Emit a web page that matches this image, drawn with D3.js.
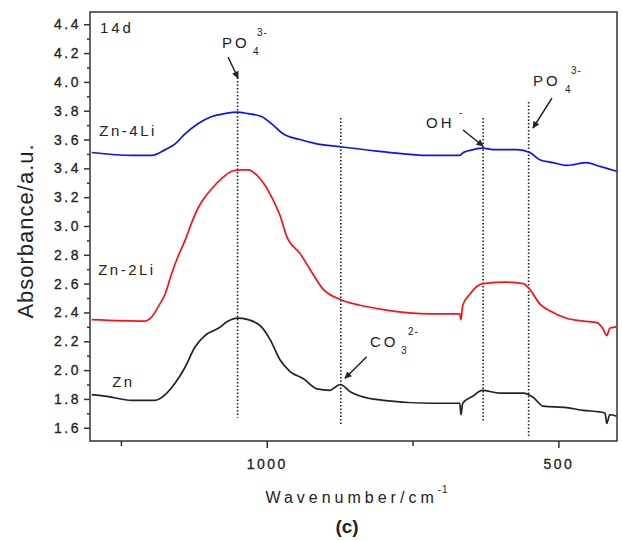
<!DOCTYPE html>
<html>
<head>
<meta charset="utf-8">
<script src="https://d3js.org/d3.v7.min.js"></script>
<style>
  body { margin: 0; background: #fff; }
  text { font-family: "Liberation Sans", Arial, sans-serif; fill: #222; }
</style>
</head>
<body>
<script>
// spectra: [wavenumber, absorbance]
var zn4li = [[1300,3.51],[1231,3.49],[1197,3.49],[1174,3.53],[1157,3.57],[1140,3.64],[1118,3.71],[1094,3.76],[1072,3.78],[1051,3.79],[1032,3.78],[1009,3.76],[989,3.70],[972,3.64],[943,3.60],[914,3.57],[874,3.55],[811,3.52],[720,3.49],[669,3.49],[663,3.51],[646,3.53],[629,3.54],[612,3.53],[571,3.53],[549,3.51],[532,3.46],[509,3.44],[485,3.42],[451,3.44],[434,3.42],[417,3.40],[400,3.38]];
var zn2li = [[1300,2.35],[1209,2.34],[1197,2.37],[1186,2.44],[1174,2.53],[1163,2.67],[1152,2.79],[1140,2.90],[1129,3.02],[1117,3.13],[1106,3.20],[1094,3.26],[1077,3.33],[1060,3.38],[1043,3.39],[1032,3.39],[1014,3.34],[1006,3.30],[989,3.18],[977,3.07],[966,2.93],[943,2.81],[926,2.70],[903,2.56],[874,2.49],[840,2.45],[800,2.42],[720,2.39],[669,2.39],[667,2.35],[664,2.45],[651,2.53],[640,2.58],[629,2.60],[589,2.61],[560,2.60],[549,2.56],[532,2.46],[514,2.41],[486,2.36],[457,2.34],[434,2.33],[424,2.29],[417,2.24],[412,2.29],[400,2.30]];
var zn = [[1300,1.83],[1277,1.82],[1231,1.79],[1192,1.79],[1174,1.83],[1157,1.91],[1140,2.02],[1123,2.16],[1106,2.24],[1083,2.29],[1066,2.34],[1051,2.36],[1032,2.35],[1009,2.30],[994,2.21],[977,2.07],[960,1.99],[937,1.94],[914,1.87],[892,1.86],[874,1.90],[857,1.85],[840,1.82],[800,1.79],[720,1.77],[669,1.77],[667,1.69],[664,1.77],[646,1.82],[631,1.86],[600,1.84],[560,1.84],[543,1.81],[526,1.75],[486,1.74],[457,1.72],[429,1.71],[420,1.70],[417,1.63],[412,1.69],[400,1.68]];

var seriesNames = ['Zn-4Li','Zn-2Li','Zn'];
var seriesData = [zn4li, zn2li, zn];
var seriesColors = ['#1010ff','#ff1010','#222'];

// dotted band markers
var markWn = [1050, 873, 629, 551];
var markTop = [4.03, 3.75, 3.75, 3.86];
var markBottom = [1.67, 1.62, 1.64, 1.54];

var yTicks = [1.6,1.8,2.0,2.2,2.4,2.6,2.8,3.0,3.2,3.4,3.6,3.8,4.0,4.2,4.4];
var yMinor = [1.7,1.9,2.1,2.3,2.5,2.7,2.9,3.1,3.3,3.5,3.7,3.9,4.1,4.3];
var xTicks = [1000, 500];
var xMinor = [1250, 750];

var W = 622, H = 541;
var pLeft = 90, pRight = 617, pTop = 12, pBottom = 441;

var svg = d3.select('body').append('svg').attr('width',W).attr('height',H);

var x = d3.scaleLinear().domain([1303, 399.5]).range([pLeft, pRight]);
var y = d3.scaleLinear().domain([1.508, 4.485]).range([pBottom, pTop]);

// axes
svg.append('g').attr('transform','translate('+pLeft+',0)')
  .call(d3.axisLeft(y).tickValues(yTicks).tickFormat(d3.format('.1f')).tickSize(6).tickPadding(3));
svg.append('g').attr('transform','translate('+pLeft+',0)')
  .call(d3.axisLeft(y).tickValues(yMinor).tickFormat('').tickSize(3));
svg.append('g').attr('transform','translate(0,'+pBottom+')')
  .call(d3.axisBottom(x).tickValues(xTicks).tickFormat(d3.format('d')).tickSize(7).tickPadding(11));
svg.append('g').attr('transform','translate(0,'+pBottom+')')
  .call(d3.axisBottom(x).tickValues(xMinor).tickFormat('').tickSize(5));

svg.selectAll('.domain').remove();
svg.selectAll('.tick line').attr('stroke','#333').attr('stroke-width',1.5);
svg.selectAll('.tick text').style('font-size','14px').style('letter-spacing','2.5px')
  .style('font-family','"Liberation Sans", Arial, sans-serif').attr('fill','#222')
  .attr('stroke','#222').attr('stroke-width',0.3);

svg.append('rect').attr('x',pLeft).attr('y',pTop).attr('width',pRight-pLeft).attr('height',pBottom-pTop)
  .attr('fill','none').attr('stroke','#333').attr('stroke-width',1.5);

// dotted markers
svg.selectAll('.mark').data(markWn).enter().append('line').attr('class','mark')
  .attr('x1',function(d){return x(d);}).attr('x2',function(d){return x(d);})
  .attr('y1',function(d,i){return y(markTop[i]);}).attr('y2',function(d,i){return y(markBottom[i]);})
  .attr('stroke','#222').attr('stroke-width',1.6).attr('stroke-dasharray','1.5,2');

// spectra
var line = d3.line().x(function(d){return x(d[0]);}).y(function(d){return y(d[1]);})
  .curve(d3.curveMonotoneX);
svg.selectAll('.spec').data(seriesData).enter().append('path').attr('class','spec')
  .attr('d',line).attr('fill','none')
  .attr('stroke',function(d,i){return seriesColors[i];}).attr('stroke-width',1.7);

// series labels
var labelPos = [[1287,3.625],[1289,2.66],[1265,1.883]];
svg.selectAll('.slabel').data(seriesNames).enter().append('text').attr('class','slabel')
  .attr('x',function(d,i){return x(labelPos[i][0]);}).attr('y',function(d,i){return y(labelPos[i][1]);})
  .style('font-size','15px').style('letter-spacing','2.5px').text(function(d){return d;});

svg.append('text').attr('x',x(1286)).attr('y',y(4.34)).style('font-size','15px')
  .style('letter-spacing','3px').text('14d');

// ion labels with sub/superscripts
function ion(wn, ab, base, sub, sup, subDx, supDx){
  var g = svg.append('g').attr('transform','translate('+x(wn)+','+y(ab)+')');
  g.append('text').style('font-size','15px').style('letter-spacing','3px').text(base);
  if (sub) g.append('text').attr('x',subDx).attr('y',7).style('font-size','10px').text(sub);
  g.append('text').attr('x',supDx).attr('y',-12).style('font-size','10px').style('letter-spacing','1px').text(sup);
}
ion(1076.6, 4.236, 'PO', '4', '3-', 31, 35);
ion(543.5, 3.972, 'PO', '4', '3-', 32, 38);
ion(726.9, 3.68, 'OH', null, '-', 33, 33);
ion(822.9, 2.161, 'CO', '3', '2-', 31, 38);

// arrows
svg.append('defs').append('marker').attr('id','head').attr('viewBox','0 0 10 10')
  .attr('refX',9).attr('refY',5).attr('markerWidth',9).attr('markerHeight',7)
  .attr('markerUnits','userSpaceOnUse').attr('orient','auto')
  .append('path').attr('d','M0,0L10,5L0,10z').attr('fill','#222');
var arrows = [[1066.3,4.173,1049.2,4.027],[663.5,3.666,629.2,3.555],[511,3.888,543.5,3.68],[828.6,2.093,865.8,1.943]];
svg.selectAll('.arrow').data(arrows).enter().append('line').attr('class','arrow')
  .attr('x1',function(d){return x(d[0]);}).attr('y1',function(d){return y(d[1]);})
  .attr('x2',function(d){return x(d[2]);}).attr('y2',function(d){return y(d[3]);})
  .attr('stroke','#222').attr('stroke-width',1.5).attr('marker-end','url(#head)');

// axis titles
var xt = svg.append('text').attr('x',357).attr('y',503).attr('text-anchor','middle')
  .style('font-size','16px').style('letter-spacing','4px');
xt.append('tspan').text('Wavenumber/cm');
xt.append('tspan').attr('dy',-10).style('font-size','10px').style('letter-spacing','1px').text('-1');

svg.append('text').attr('transform','translate(33,231) rotate(-90)').attr('text-anchor','middle')
  .style('font-size','22px').style('letter-spacing','1px').text('Absorbance/a.u.');

svg.append('text').attr('x',347).attr('y',533).attr('text-anchor','middle')
  .style('font-size','19px').style('font-weight','bold').text('(c)');
</script>
</body>
</html>
